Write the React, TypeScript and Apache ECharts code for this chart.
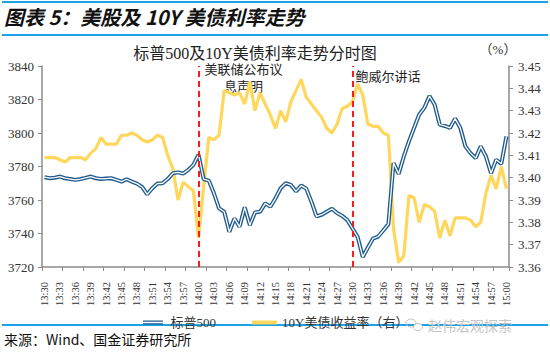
import React, { useEffect, useRef } from "react";
import * as echarts from "echarts";

// minute categories 13:30 .. 15:00
const timeLabels: string[] = (() => {
  const out: string[] = [];
  for (let m = 0; m <= 90; m++) {
    const t = 13 * 60 + 30 + m;
    out.push(`${Math.floor(t / 60)}:${String(t % 60).padStart(2, "0")}`);
  }
  return out;
})();

const spx500: number[] = [
  3773.6, 3773, 3773.3, 3774, 3773, 3772.5, 3772, 3772.5, 3773.2, 3774,
  3773, 3772.6, 3772.8, 3773, 3772, 3771, 3772.4, 3771, 3769.8, 3767.8,
  3763.4, 3767, 3769.8, 3770, 3772.5, 3776, 3776.5, 3775.8, 3778, 3781,
  3787, 3772.5, 3771.6, 3764, 3755, 3753, 3741, 3749, 3744, 3755.6,
  3745, 3752.6, 3753, 3758, 3756, 3761, 3767, 3770, 3769, 3765.2,
  3768.6, 3766.8, 3759, 3750.2, 3751.2, 3753, 3754.8, 3752.2, 3750.5, 3748,
  3743, 3738, 3726, 3731.6, 3737, 3738.2, 3741.8, 3745.6, 3782, 3775.6,
  3786, 3795, 3803, 3811, 3815, 3822, 3817, 3805, 3804.2, 3803,
  3808.6, 3803.2, 3792, 3788, 3785, 3792, 3786, 3776, 3784, 3781.6,
  3798,
];

const yield10y: number[] = [
  3.409, 3.409, 3.409, 3.408, 3.407, 3.409, 3.409, 3.409, 3.408, 3.411,
  3.413, 3.418, 3.415, 3.415, 3.415, 3.419, 3.419, 3.42, 3.419, 3.417,
  3.416, 3.417, 3.419, 3.418, 3.41, 3.404, 3.39, 3.398, 3.396, 3.394,
  3.373, 3.396, 3.418, 3.417, 3.419, 3.439, 3.438, 3.437, 3.438, 3.433,
  3.443, 3.43, 3.438, 3.433, 3.428, 3.422, 3.43, 3.425, 3.434, 3.439,
  3.444, 3.436, 3.433, 3.43, 3.427, 3.422, 3.42, 3.424, 3.431, 3.432,
  3.434, 3.442, 3.437, 3.424, 3.423, 3.423, 3.42, 3.419, 3.377, 3.362,
  3.365, 3.392, 3.391, 3.38, 3.388, 3.387, 3.385, 3.373, 3.381, 3.374,
  3.382, 3.382, 3.382, 3.381, 3.378, 3.38, 3.393, 3.401, 3.395, 3.405,
  3.395,
];

const leftMin = 3720;
const leftMax = 3840;
const leftStep = 20;
const rightMin = 3.36;
const rightMax = 3.45;
const rightStep = 0.01;

const eventTimes: string[] = ["14:00", "14:30"];
const eventTexts: string[] = ["美联储公布议\n息声明", "鲍威尔讲话"];

const seriesNames: string[] = ["标普500", "10Y美债收益率（右）"];

const SERIF = "'Times New Roman', 'Liberation Serif', 'Noto Sans CJK SC', serif";
const SANS = "'Noto Sans CJK SC', 'Liberation Sans', sans-serif";
const BLUE_RULE = "#1aa3e8";
const SPX_COLOR = "#1f5b8d";
const YLD_COLOR = "#ffd75c";
const AXIS_COLOR = "#8c8c8c";

export default function App() {
  const ref = useRef<HTMLDivElement | null>(null);

  useEffect(() => {
    if (!ref.current) return;
    const chart = echarts.init(ref.current, undefined, { renderer: "svg" });

    const axisCommon = {
      axisLine: { show: true, lineStyle: { color: AXIS_COLOR, width: 1.5 } },
      axisTick: { show: true, length: 4, lineStyle: { color: AXIS_COLOR } },
      splitLine: { show: false },
    };

    chart.setOption({
      animation: false,
      backgroundColor: "#ffffff",
      grid: { left: 42, top: 66, width: 467, height: 201, containLabel: false },
      title: [
        {
          text: "标普500及10Y美债利率走势分时图",
          left: 250,
          top: 40,
          textAlign: "center",
          textStyle: { fontFamily: SERIF, fontSize: 16, fontWeight: "normal", color: "#222" },
        },
      ],
      legend: {
        data: [
          {
            name: seriesNames[0],
            icon: "path://M0,0H30V6H0Z M0,2V4H30V2Z",
          },
          { name: seriesNames[1], icon: "rect" },
        ],
        left: 138,
        top: 311,
        itemWidth: 25,
        itemHeight: 4,
        itemGap: 36,
        textStyle: { fontFamily: SERIF, fontSize: 13, color: "#333" },
      },
      xAxis: {
        type: "category",
        data: timeLabels,
        boundaryGap: true,
        ...axisCommon,
        axisTick: { show: true, length: 4, interval: 3, lineStyle: { color: AXIS_COLOR } },
        axisLabel: {
          interval: 2,
          rotate: 90,
          margin: 15,
          fontFamily: SERIF,
          fontSize: 10.5,
          color: "#333",
        },
      },
      yAxis: [
        {
          type: "value",
          min: leftMin,
          max: leftMax,
          interval: leftStep,
          ...axisCommon,
          axisLabel: {
            fontFamily: SERIF,
            fontSize: 13,
            color: "#333",
            margin: 8,
            formatter: (v: number) => String(v),
          },
        },
        {
          type: "value",
          position: "right",
          min: rightMin,
          max: rightMax,
          interval: rightStep,
          ...axisCommon,
          axisLabel: {
            fontFamily: SERIF,
            fontSize: 13,
            color: "#333",
            margin: 9,
            formatter: (v: number) => v.toFixed(2),
          },
        },
      ],
      series: [
        {
          name: seriesNames[1],
          type: "line",
          yAxisIndex: 1,
          data: yield10y,
          showSymbol: false,
          symbol: "none",
          color: YLD_COLOR,
          lineStyle: { color: YLD_COLOR, width: 3.2 },
          z: 2,
        },
        {
          name: seriesNames[0],
          type: "line",
          yAxisIndex: 0,
          data: spx500,
          showSymbol: false,
          symbol: "none",
          color: SPX_COLOR,
          lineStyle: { color: SPX_COLOR, width: 4 },
          z: 3,
          markLine: {
            silent: true,
            symbol: "none",
            label: { show: false },
            lineStyle: { color: "#ff1a1a", width: 2, type: [6, 4] },
            data: eventTimes.map((t) => ({ xAxis: t })),
          },
        },
        {
          name: "标普500-inner",
          type: "line",
          yAxisIndex: 0,
          data: spx500,
          showSymbol: false,
          symbol: "none",
          color: "#ffffff",
          lineStyle: { color: "#ffffff", width: 1.3 },
          z: 4,
        },
      ],
    });

    const evX = eventTimes.map((t) => chart.convertToPixel({ xAxisIndex: 0 }, t) as number);

    chart.setOption({
      graphic: [
        { type: "rect", shape: { x: 2, y: 1, width: 546, height: 2 }, style: { fill: BLUE_RULE } },
        {
          type: "text",
          left: 4,
          top: 6,
          style: {
            text: "图表 5：美股及 10Y 美债利率走势",
            font: `italic bold 20px ${SANS}`,
            fill: "#111",
          },
        },
        { type: "rect", shape: { x: 2, y: 34, width: 546, height: 2 }, style: { fill: BLUE_RULE } },
        {
          type: "text",
          x: 498,
          y: 49,
          style: {
            text: "（%）",
            font: `13px ${SERIF}`,
            fill: "#333",
            textAlign: "center",
            textVerticalAlign: "middle",
          },
        },
        {
          type: "text",
          x: evX[0] + 45,
          y: 61,
          style: {
            text: eventTexts[0],
            font: `13px ${SERIF}`,
            fill: "#222",
            textAlign: "center",
            lineHeight: 17,
          },
        },
        {
          type: "text",
          x: evX[1] + 3,
          y: 70,
          style: {
            text: eventTexts[1],
            font: `13px ${SERIF}`,
            fill: "#222",
            textAlign: "left",
          },
        },
        { type: "rect", shape: { x: 2, y: 324, width: 546, height: 2 }, style: { fill: BLUE_RULE } },
        {
          type: "text",
          left: 4,
          top: 332,
          style: {
            text: "来源：Wind、国金证券研究所",
            font: `14px ${SANS}`,
            fill: "#111",
          },
        },
        {
          type: "group",
          z: 10,
          children: [
            { type: "ellipse", shape: { cx: 411, cy: 323, rx: 5, ry: 4 }, style: { fill: "none", stroke: "#c4c4c4", lineWidth: 1 } },
            { type: "ellipse", shape: { cx: 418, cy: 327, rx: 4.5, ry: 3.5 }, style: { fill: "#fff", stroke: "#c4c4c4", lineWidth: 1 } },
            {
              type: "text",
              x: 428,
              y: 325,
              style: {
                text: "赵伟宏观探索",
                font: `14px ${SANS}`,
                fill: "#c4c4c4",
                textVerticalAlign: "middle",
              },
            },
          ],
        },
      ],
    });

    return () => chart.dispose();
  }, []);

  return (
    <div
      ref={ref}
      style={{ position: "fixed", left: 0, top: 0, width: 550, height: 352, background: "#fff" }}
    />
  );
}
